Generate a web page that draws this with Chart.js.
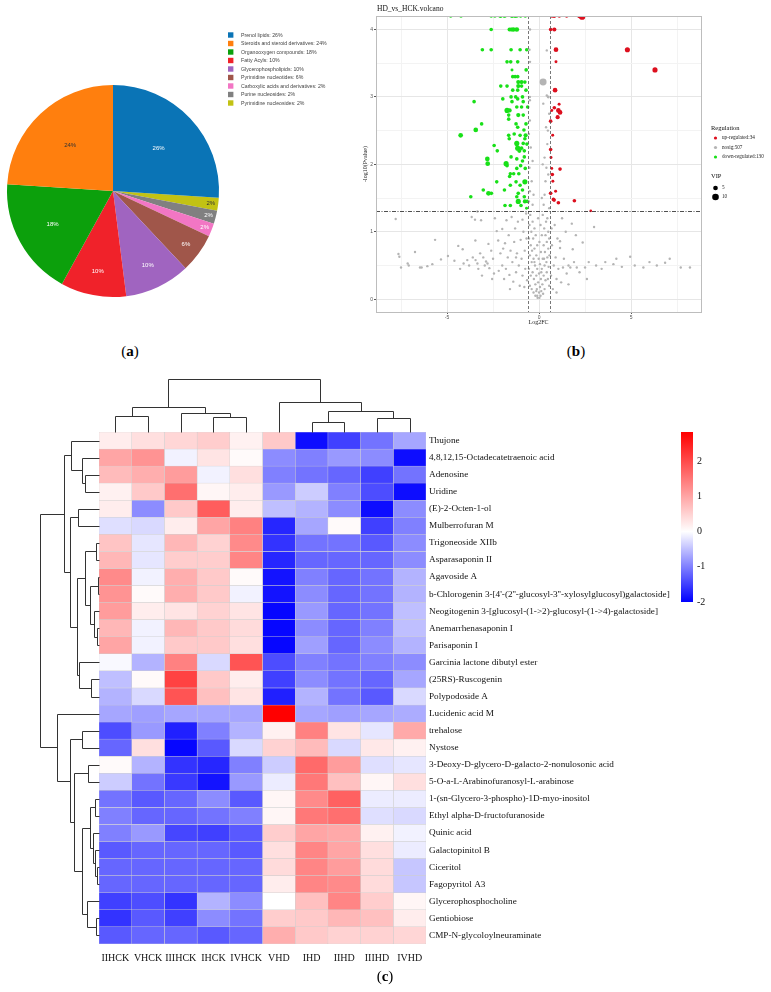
<!DOCTYPE html>
<html>
<head>
<meta charset="utf-8">
<script src="https://cdn.jsdelivr.net/npm/chart.js@4.4.1/dist/chart.umd.min.js"></script>
<style>
  html, body { margin: 0; padding: 0; background: #fff; }
  body { width: 771px; height: 992px; position: relative; overflow: hidden; }
  canvas { position: absolute; }
  #pie { left: 0; top: 0; }
  #volcano { left: 340px; top: 0; }
  #heat { left: 0; top: 370px; }
  .cap { position: absolute; font-family: 'Liberation Serif', serif; font-size: 15px; transform: translateX(-50%); line-height: 1; }
</style>
</head>
<body>
<canvas id="pie" width="360" height="320"></canvas>
<canvas id="volcano" width="431" height="326"></canvas>
<canvas id="heat" width="771" height="600"></canvas>
<div class="cap" style="left:130px;top:344px">(<b>a</b>)</div>
<div class="cap" style="left:576px;top:344px">(<b>b</b>)</div>
<div class="cap" style="left:385px;top:969px">(<b>c</b>)</div>
<script>
// ---------- (a) pie ----------
const pieLabels = ['Prenol lipids', 'Steroids and steroid derivatives', 'Organooxygen compounds', 'Fatty Acyls',
  'Glycerophospholipids', 'Pyrimidine nucleotides', 'Carboxylic acids and derivatives', 'Purine nucleosides',
  'Pyrimidine nucleosides'];
const piePercents = [26, 24, 18, 10, 10, 6, 2, 2, 2];
const pieColors = ['#0a74b6', '#ff7f0e', '#0ca00c', '#f0222a', '#a064c0', '#a0564a', '#f276c4', '#808080', '#c2c214'];
const pieTextDark = [false, true, false, false, false, false, false, false, true];

// ---------- (b) volcano: [log2FC, -log10(p), VIP] ----------
const upPoints = [
  [0.82,4.2,4],[1.5,4.2,3],[2.34,4.19,9],[2.2,4.2,5],[0.7,4.2,3],[1.1,4.2,3],[0.63,4.0,3],[0.83,4.0,4],
  [0.92,3.7,5],[0.92,3.52,2],[0.87,3.1,5],[1.09,2.89,2],[0.83,2.84,3],[1.05,2.8,5],[1.14,2.77,5],[0.69,2.8,2],
  [1.01,2.7,4],[0.63,2.64,3],[0.74,2.43,2],[0.63,2.22,3],[0.69,1.94,2],[1.14,1.93,3],[0.72,1.85,3],[0.65,2.1,2],
  [0.75,1.75,2],[0.63,1.57,3],[0.78,1.48,3],[0.82,1.47,3],[1.05,1.43,3],[1.92,1.46,3],[2.81,1.31,1.5],
  [4.8,3.7,6],[6.3,3.4,6],[0.9,1.6,2]
];
const downPoints = [
  [-4.8,4.2,3],[-4.24,4.2,3],[-2.6,4.2,3],[-2.4,4.2,3],[-2.1,4.2,4],[-1.85,4.2,3],[-1.47,4.2,4],[-1.3,4.2,4],
  [-1.2,4.2,3],[-0.75,4.2,3],[-1.9,4.2,3],[-1.0,4.2,3],
  [-2.6,4.0,3],[-1.6,4.0,4],[-1.4,4.0,5],[-1.21,4.0,5],[-1.5,4.0,4],
  [-3.08,3.7,3],[-2.6,3.7,3],[-1.52,3.7,3],[-1.03,3.7,3],[-0.67,3.7,3],
  [-1.74,3.52,3],[-1.54,3.52,3],[-1.16,3.52,3],[-1.47,3.4,2],[-0.7,3.4,3],
  [-1.43,3.3,3],[-1.16,3.3,3],[-1.3,3.3,3],[-1.13,3.22,4],[-0.95,3.22,4],[-0.77,3.22,3],
  [-2.08,3.16,3],[-1.74,3.16,3],[-1.13,3.16,4],[-0.95,3.16,3],[-1.43,3.1,3],[-1.16,3.1,3],[-0.71,3.1,3],
  [-1.52,3.0,3],[-1.27,3.0,3],[-0.9,3.0,3],[-1.97,2.97,3],[-1.16,2.97,3],[-3.53,2.93,3],[-1.47,2.93,3],[-0.86,2.93,3],
  [-1.21,2.85,3],[-0.95,2.85,3],[-0.62,2.85,3],[-1.74,2.8,6],[-1.6,2.8,4],
  [-1.65,2.73,3],[-1.13,2.73,4],[-0.86,2.73,3],[-1.65,2.67,3],[-3.12,2.6,3],[-1.25,2.6,3],[-0.71,2.6,3],
  [-1.16,2.55,3],[-3.44,2.51,5],[-0.82,2.51,3],[-1.35,2.45,3],
  [-4.26,2.43,5],[-1.65,2.43,3],[-1.03,2.43,3],[-0.73,2.43,4],[-1.62,2.38,3],[-0.77,2.38,3],
  [-1.21,2.31,6],[-0.86,2.31,3],[-0.66,2.3,3],[-2.44,2.28,3],[-1.16,2.24,6],[-0.95,2.24,3],
  [-2.27,2.2,3],[-1.07,2.2,4],[-0.8,2.2,3],[-1.52,2.11,3],[-0.8,2.11,3],[-0.9,2.05,3],
  [-2.81,2.08,5],[-1.21,2.08,3],[-2.79,2.01,5],[-1.79,2.01,6],[-1.74,1.98,3],[-1.0,1.98,3],
  [-1.21,1.94,3],[-0.75,1.94,3],[-1.56,1.86,3],[-1.38,1.86,3],[-1.1,1.86,3],[-1.6,1.82,3],
  [-2.3,1.74,3],[-1.25,1.74,3],[-0.77,1.74,6],[-1.56,1.69,3],[-1.03,1.69,3],
  [-3.03,1.62,3],[-1.88,1.62,3],[-0.9,1.62,3],[-2.75,1.57,5],[-2.59,1.57,3],[-1.13,1.57,3],
  [-3.71,1.52,3],[-1.21,1.52,3],[-0.8,1.52,3],[-1.13,1.45,6],[-0.77,1.45,4],[-0.64,1.45,3],
  [-1.85,1.39,3],[-1.56,1.39,3],[-0.98,1.39,3],[-0.68,1.35,2]
];
const nosigPoints = [
  [-7.79,1.19,1.3],[-7.64,0.67,1.3],[-7.59,0.63,1.3],[-7.5,0.47,1.3],[-7.14,0.53,1.3],[-7.08,0.5,1.3],
  [-6.74,0.7,1.3],[-6.47,0.47,1.3],[-6.38,0.47,1.3],[-6.07,0.49,1.3],[-5.8,0.52,1.3],[-5.65,0.88,1.3],
  [-5.33,0.59,1.3],[-4.95,0.64,1.3],[-4.6,0.57,1.3],[-4.39,0.79,1.3],[-4.29,0.45,1.3],[-4.15,0.74,1.3],
  [-4.1,0.53,1.3],[-3.9,0.58,1.3],[-3.8,0.5,1.3],[-3.66,1.22,1.3],[-3.48,1.18,1.3],[-3.46,0.87,1.3],
  [-3.45,0.58,1.3],[-3.35,0.53,1.3],[-3.3,0.45,1.3],[-3.15,1.17,1.3],[-3.6,0.62,1.3],[-3.2,0.68,1.3],
  [-3.35,1.3,1.3],[-3.1,0.35,1.3],
  [-3.03,0.62,1.3],[-2.95,0.5,1.3],[-2.88,0.56,1.3],[-2.8,0.53,1.3],[-2.7,0.46,1.3],[-2.6,0.72,1.3],
  [-2.5,0.6,1.3],[-2.45,0.38,1.3],[-2.3,1.01,1.3],[-2.22,0.87,1.3],[-2.19,0.42,1.3],[-2.1,0.68,1.3],
  [-2.0,1.04,1.3],[-2.0,0.5,1.3],[-1.9,0.3,1.3],[-1.85,0.83,1.3],[-1.8,0.45,1.3],[-1.77,1.17,1.3],
  [-1.7,0.62,1.3],[-1.65,0.95,1.3],[-1.61,0.36,1.3],[-1.55,0.72,1.3],[-1.49,1.22,1.3],[-1.45,0.55,1.3],
  [-1.4,0.26,1.3],[-1.35,0.85,1.3],[-1.3,1.05,1.3],[-1.25,0.4,1.3],[-1.2,0.68,1.3],[-1.15,1.15,1.3],
  [-1.1,0.5,1.3],[-1.05,0.2,1.3],[-1.0,0.88,1.3],[-0.95,0.6,1.3],[-0.9,0.35,1.3],[-0.85,1.0,1.3],
  [-0.8,0.18,1.3],[-0.78,0.72,1.3],[-0.75,0.45,1.3],[-0.7,1.27,1.3],[-0.68,0.9,1.3],[-0.65,0.28,1.3],
  [-2.75,0.82,1.3],[-2.4,1.2,1.3],[-1.95,0.75,1.3],[-1.58,0.15,1.3],[-1.25,0.62,1.3],[-0.9,1.18,1.3],
  [-2.55,0.3,1.3],
  [-0.55,0.9,1.3],[-0.55,0.45,1.3],[-0.52,1.1,1.3],[-0.5,0.65,1.3],[-0.5,0.2,1.3],[-0.48,1.25,1.3],
  [-0.45,0.8,1.3],[-0.45,0.35,1.3],[-0.42,1.0,1.3],[-0.4,0.55,1.3],[-0.4,0.15,1.3],[-0.38,0.72,1.3],
  [-0.35,1.15,1.3],[-0.35,0.4,1.3],[-0.32,0.9,1.3],[-0.3,0.6,1.3],[-0.3,0.1,1.3],[-0.28,0.3,1.3],
  [-0.25,1.05,1.3],[-0.25,0.75,1.3],[-0.22,0.5,1.3],[-0.2,0.22,1.3],[-0.2,0.05,1.3],[-0.18,0.95,1.3],
  [-0.15,0.65,1.3],[-0.15,0.35,1.3],[-0.12,0.15,1.3],[-0.1,0.8,1.3],[-0.1,0.45,1.3],[-0.08,0.02,1.3],
  [-0.05,0.25,1.3],[-0.05,1.2,1.3],[-0.02,0.6,1.3],[0.0,0.1,1.3],[0.0,0.38,1.3],[0.02,0.85,1.3],
  [0.05,0.18,1.3],[0.05,0.52,1.3],[0.08,0.05,1.3],[0.08,1.1,1.3],[0.1,0.3,1.3],[0.1,0.7,1.3],
  [0.12,0.12,1.3],[0.15,0.45,1.3],[0.15,0.95,1.3],[0.18,0.22,1.3],[0.2,0.6,1.3],[0.2,1.25,1.3],
  [0.22,0.08,1.3],[0.25,0.35,1.3],[0.25,0.8,1.3],[0.28,1.05,1.3],[0.3,0.5,1.3],[0.3,0.15,1.3],
  [0.32,0.7,1.3],[0.35,0.95,1.3],[0.35,0.28,1.3],[0.38,1.15,1.3],[0.4,0.55,1.3],[0.42,0.4,1.3],
  [0.42,0.85,1.3],[0.45,1.2,1.3],[0.45,0.62,1.3],[0.48,0.3,1.3],[0.5,0.75,1.3],[0.5,1.0,1.3],
  [0.52,0.48,1.3],[0.55,0.9,1.3],[0.55,0.2,1.3],[0.57,0.65,1.3],[-0.1,0.05,1.3],[0.02,0.02,1.3],
  [-0.15,0.12,1.3],[0.12,0.4,1.3],[-0.25,0.55,1.3],[0.27,0.6,1.3],
  [-0.55,1.45,1.3],[-0.5,1.6,1.3],[-0.52,1.95,1.3],[-0.45,2.25,1.3],[-0.55,2.45,1.3],[-0.5,2.65,1.3],
  [-0.4,1.75,1.3],[-0.35,1.4,1.3],[-0.3,1.55,1.3],[-0.35,2.05,1.3],[-0.5,3.0,1.3],[-0.5,2.95,1.3],
  [-0.52,3.7,1.3],[-0.49,3.52,1.3],[-0.49,4.0,1.3],[0.25,1.4,1.3],[0.3,1.55,1.3],[0.35,1.75,1.3],
  [0.4,1.95,1.3],[0.3,2.1,1.3],[0.45,2.3,1.3],[0.38,2.55,1.3],[0.55,2.75,1.3],[0.23,2.9,1.3],
  [0.42,3.02,1.3],[0.5,3.0,2],[0.15,1.5,1.3],[0.5,1.85,1.3],[0.2,2.0,1.3],[0.48,2.5,1.3],
  [0.42,3.69,1.3],[0.55,1.35,1.3],[0.22,3.22,11],
  [0.65,0.35,1.3],[0.7,0.8,1.3],[0.75,0.15,1.3],[0.8,0.5,1.3],[0.85,1.1,1.3],[0.9,0.62,1.3],
  [0.95,0.3,1.3],[1.0,0.9,1.3],[1.05,0.45,1.3],[1.14,0.76,1.3],[1.14,0.86,1.3],[1.2,0.25,1.3],
  [1.3,0.47,1.3],[1.35,0.6,1.3],[1.45,1.0,1.3],[1.5,0.38,1.3],[1.6,0.5,1.3],[1.7,0.47,1.3],
  [1.78,1.12,1.3],[1.83,0.74,1.3],[1.9,0.55,1.3],[2.0,0.95,1.3],[2.05,0.47,1.3],[2.2,0.4,1.3],
  [2.37,0.84,1.3],[2.5,0.47,1.3],[2.7,0.55,1.3],[2.99,1.07,1.3],[3.1,0.5,1.3],[3.4,0.45,1.3],
  [3.6,0.55,1.3],[4.04,0.52,1.3],[4.2,0.6,1.3],[4.5,0.48,1.3],[4.95,0.63,1.3],[5.2,0.5,1.3],
  [5.67,0.47,1.3],[6.0,0.55,1.3],[6.4,0.5,1.3],[6.85,0.54,1.3],[7.1,0.6,1.3],[7.7,0.47,1.3],
  [8.2,0.47,1.3],[1.25,1.2,1.3],[0.68,1.05,1.3],[0.95,0.1,1.3],[1.6,0.22,1.3],[2.6,0.3,1.3]
];
const fcCut = 0.585;
const pCut = 1.301;
const regulationLabels = ['up-regulated:34', 'nosig:507', 'down-regulated:130'];
const vipLegend = [5, 10];

// ---------- (c) heatmap ----------
const heatCols = ['IIHCK', 'VHCK', 'IIIHCK', 'IHCK', 'IVHCK', 'VHD', 'IHD', 'IIHD', 'IIIHD', 'IVHD'];
const heatRows = ['Thujone', '4,8,12,15-Octadecatetraenoic acid', 'Adenosine', 'Uridine', '(E)-2-Octen-1-ol',
  'Mulberrofuran M', 'Trigoneoside XIIb', 'Asparasaponin II', 'Agavoside A',
  "b-Chlorogenin 3-[4'-(2''-glucosyl-3''-xylosylglucosyl)galactoside]",
  'Neogitogenin 3-[glucosyl-(1->2)-glucosyl-(1->4)-galactoside]', 'Anemarrhenasaponin I', 'Parisaponin I',
  'Garcinia lactone dibutyl ester', '(25RS)-Ruscogenin', 'Polypodoside A', 'Lucidenic acid M', 'trehalose',
  'Nystose', '3-Deoxy-D-glycero-D-galacto-2-nonulosonic acid', '5-O-a-L-Arabinofuranosyl-L-arabinose',
  '1-(sn-Glycero-3-phospho)-1D-myo-inositol', 'Ethyl alpha-D-fructofuranoside', 'Quinic acid',
  'Galactopinitol B', 'Ciceritol', 'Fagopyritol A3', 'Glycerophosphocholine', 'Gentiobiose',
  'CMP-N-glycoloylneuraminate'];
const heatValues = [
  [0.2, 0.35, 0.45, 0.55, 0.15, 0.6, -1.9, -1.5, -1.1, -0.7],
  [1.0, 1.2, -0.1, 0.3, 0.05, -0.9, -1.0, -0.8, -0.9, -1.9],
  [0.75, 0.9, 1.1, -0.1, 0.35, -1.0, -1.1, -1.2, -1.5, -1.1],
  [0.15, 0.6, 1.6, 0.1, 0.2, -0.8, -0.4, -1.0, -1.4, -1.9],
  [0.2, -0.9, 0.6, 1.8, 0.2, -0.5, -0.6, -0.9, -1.9, -0.9],
  [-0.25, -0.3, 0.2, 1.0, 1.4, -1.7, -0.7, 0.05, -1.5, -1.0],
  [0.65, -0.2, 0.8, 0.5, 1.3, -1.6, -1.1, -1.1, -1.3, -0.9],
  [0.8, -0.2, 0.55, 0.55, 1.35, -1.7, -1.2, -1.2, -1.2, -0.9],
  [1.3, -0.1, 0.9, 0.6, 0.05, -1.85, -1.0, -1.2, -1.1, -0.6],
  [1.2, 0.05, 0.9, 0.6, -0.1, -1.85, -0.9, -1.2, -1.1, -0.6],
  [1.1, 0.2, 0.3, 0.5, 0.3, -1.95, -0.8, -1.2, -1.1, -0.5],
  [0.8, -0.1, 0.8, 0.6, 0.4, -1.95, -0.9, -1.2, -1.0, -0.5],
  [1.0, -0.1, 0.6, 0.6, 0.35, -1.95, -0.75, -1.2, -0.9, -0.6],
  [-0.05, -0.6, 1.4, -0.3, 1.9, -1.4, -1.0, -1.1, -1.0, -0.9],
  [-0.5, 0.05, 2.1, 0.6, 0.2, -1.5, -0.9, -1.1, -1.2, -0.7],
  [-0.6, -0.3, 1.9, 0.7, 0.3, -1.75, -0.6, -1.1, -1.3, -0.3],
  [-0.7, -0.75, -0.7, -0.7, -0.7, 2.85, -0.7, -0.75, -0.7, -0.65],
  [-1.4, -0.8, -1.75, -1.0, -0.6, 0.15, 1.4, 0.3, -0.2, 0.95],
  [-1.2, 0.35, -1.95, -1.3, -0.3, 0.5, 0.75, -0.3, 0.25, 0.15],
  [0.05, -0.6, -1.6, -1.7, -1.0, -0.4, 1.65, 1.1, -0.25, -0.2],
  [-0.4, -1.1, -1.55, -1.85, -0.8, -0.15, 1.5, 0.7, 0.1, 0.35],
  [-1.1, -1.3, -1.2, -0.9, -1.3, 0.1, 1.3, 1.75, -0.15, -0.15],
  [-1.0, -1.2, -1.2, -1.1, -1.0, 0.1, 1.5, 1.6, -0.25, -0.3],
  [-1.0, -0.8, -1.45, -1.5, -1.3, 0.55, 1.0, 0.95, 0.15, -0.1],
  [-1.3, -1.2, -1.2, -1.2, -1.3, 0.35, 1.35, 1.0, 0.35, -0.15],
  [-1.2, -1.2, -1.2, -1.2, -1.2, 0.4, 1.35, 1.1, 0.4, -0.45],
  [-1.2, -1.2, -1.2, -1.2, -1.2, 0.2, 1.35, 1.3, 0.4, -0.45],
  [-1.5, -1.4, -1.6, -0.6, -0.9, 0.0, 0.7, 1.35, 0.55, 0.1],
  [-1.6, -1.3, -1.5, -0.9, -1.1, 0.55, 0.6, 0.8, 0.7, 0.2],
  [-1.3, -1.2, -1.2, -1.3, -1.2, 0.9, 0.6, 0.5, 0.5, 0.45]
];
// dendrogram merges: [childA, childB, height]; new nodes get ids after the leaves
const rowTree = [
  [2, 3, 2.3], [1, 30, 2.9], [0, 31, 4.7], [4, 5, 3.5], [6, 7, 0.5], [8, 9, 0.25], [11, 12, 0.4],
  [10, 36, 0.9], [35, 37, 1.6], [34, 38, 2.3], [14, 15, 1.35], [13, 40, 3.35], [39, 41, 3.8],
  [33, 42, 4.9], [32, 43, 5.9], [17, 18, 2.9], [19, 20, 1.9], [21, 22, 0.7], [25, 26, 0.3],
  [24, 48, 0.6], [23, 49, 1.0], [47, 50, 1.6], [28, 29, 0.5], [27, 52, 2.1], [51, 53, 2.8],
  [46, 54, 4.2], [45, 55, 4.9], [16, 56, 7.2], [44, 57, 10]
];
const colTree = [
  [0, 1, 3.0], [3, 4, 2.9], [2, 11, 3.5], [10, 12, 4.8], [6, 7, 1.85], [8, 9, 2.6],
  [14, 15, 4.0], [5, 16, 5.6], [13, 17, 10]
];
const colorMin = -2;
const colorMax = 2.83;
const colorTicks = [2, 1, 0, -1, -2];

function heatColor(v) {
  if (v < 0) {
    const t = Math.min(1, -v / -colorMin);
    const c = Math.round(255 * (1 - t));
    return `rgb(${c},${c},255)`;
  }
  const t = Math.min(1, v / colorMax);
  const c = Math.round(255 * (1 - t));
  return `rgb(255,${c},${c})`;
}

const SERIF = "'Liberation Serif', 'Times New Roman', serif";
const SANS = "'Liberation Sans', Arial, sans-serif";

// ---------- pie chart ----------
const pieDecor = {
  id: 'pieDecor',
  afterDraw(chart) {
    const ctx = chart.ctx;
    const meta = chart.getDatasetMeta(0);
    const n = piePercents.length;
    ctx.save();
    ctx.font = `6px ${SANS}`;
    ctx.textAlign = 'center';
    ctx.textBaseline = 'middle';
    meta.data.forEach((arc, i) => {
      const k = n - 1 - i; // datasets are stored in reverse legend order
      const pct = piePercents[k];
      const { startAngle, endAngle, outerRadius, x, y } = arc.getProps(['startAngle', 'endAngle', 'outerRadius', 'x', 'y'], true);
      const mid = (startAngle + endAngle) / 2;
      const d = pct >= 24 ? 0.59 : pct >= 18 ? 0.65 : pct >= 10 ? 0.77 : pct >= 6 ? 0.85 : 0.93;
      ctx.fillStyle = pieTextDark[k] ? '#333' : '#fff';
      ctx.fillText(pct + '%', x + Math.cos(mid) * outerRadius * d, y + Math.sin(mid) * outerRadius * d);
    });
    // legend
    ctx.textAlign = 'left';
    ctx.font = `5.2px ${SANS}`;
    pieLabels.forEach((lab, k) => {
      const ly = 35 + k * 8.5;
      ctx.fillStyle = pieColors[k];
      ctx.fillRect(228, ly - 2.7, 5.4, 5.4);
      ctx.fillStyle = '#444';
      ctx.fillText(`${lab}: ${piePercents[k]}%`, 241, ly + 0.3);
    });
    ctx.restore();
  },
};

new Chart(document.getElementById('pie'), {
  type: 'pie',
  data: {
    labels: [...pieLabels].reverse(),
    datasets: [{
      data: [...piePercents].reverse(),
      backgroundColor: [...pieColors].reverse(),
      borderWidth: 0,
    }],
  },
  options: {
    responsive: false,
    animation: false,
    devicePixelRatio: 1,
    rotation: piePercents[0] * 3.6,
    layout: { padding: { left: 0, right: 134, top: 85, bottom: 23 } },
    plugins: { legend: { display: false }, tooltip: { enabled: false } },
  },
  plugins: [pieDecor],
});

// ---------- volcano ----------
const vipRadius = v => 1.05 * Math.sqrt(v);
const toXY = arr => arr.map(p => ({ x: p[0], y: p[1], v: p[2] }));

const volcanoDecor = {
  id: 'volcanoDecor',
  afterDatasetsDraw(chart) {
    const { ctx, chartArea: a, scales: { x, y } } = chart;
    ctx.save();
    ctx.lineWidth = 0.8;
    ctx.strokeStyle = '#555';
    ctx.setLineDash([3, 2]);
    [-fcCut, fcCut].forEach(v => {
      const px = Math.round(x.getPixelForValue(v)) + 0.5;
      ctx.beginPath(); ctx.moveTo(px, a.top); ctx.lineTo(px, a.bottom); ctx.stroke();
    });
    ctx.strokeStyle = '#222';
    ctx.setLineDash([4, 1.5, 1, 1.5]);
    const py = Math.round(y.getPixelForValue(pCut)) + 0.5;
    ctx.beginPath(); ctx.moveTo(a.left, py); ctx.lineTo(a.right, py); ctx.stroke();
    ctx.setLineDash([]);
    ctx.strokeStyle = '#bdbdbd';
    ctx.lineWidth = 1;
    ctx.strokeRect(Math.round(a.left) + 0.5, Math.round(a.top) + 0.5, Math.round(a.right - a.left), Math.round(a.bottom - a.top));
    ctx.restore();
  },
  afterDraw(chart) {
    const ctx = chart.ctx;
    ctx.save();
    ctx.fillStyle = '#111';
    ctx.textBaseline = 'middle';
    ctx.font = `7.5px ${SERIF}`;
    ctx.fillText('HD_vs_HCK.volcano', 37, 9);
    // legend
    ctx.font = `6.5px ${SERIF}`;
    ctx.fillText('Regulation', 371, 128);
    const regColors = ['#dd0f1e', '#b4b4b4', '#18e018'];
    ctx.font = `5.2px ${SERIF}`;
    regulationLabels.forEach((lab, i) => {
      const ly = 138 + i * 9.5;
      ctx.fillStyle = regColors[i];
      ctx.beginPath(); ctx.arc(375.5, ly, 1.6, 0, Math.PI * 2); ctx.fill();
      ctx.fillStyle = '#222';
      ctx.fillText(lab, 382, ly);
    });
    ctx.font = `6.5px ${SERIF}`;
    ctx.fillStyle = '#111';
    ctx.fillText('VIP', 371, 176);
    ctx.font = `5.2px ${SERIF}`;
    vipLegend.forEach((v, i) => {
      const ly = 188 + i * 9;
      ctx.fillStyle = '#000';
      ctx.beginPath(); ctx.arc(375.5, ly, vipRadius(v), 0, Math.PI * 2); ctx.fill();
      ctx.fillStyle = '#222';
      ctx.fillText(String(v), 382, ly);
    });
    ctx.restore();
  },
};

const gridCol = (major, minor) => c => (Math.abs(c.tick.value % (c.scale.axis === 'x' ? 5 : 1)) < 1e-6 ? major : minor);

new Chart(document.getElementById('volcano'), {
  type: 'scatter',
  data: {
    datasets: [
      { label: 'nosig', data: toXY(nosigPoints), backgroundColor: '#b4b4b4' },
      { label: 'down', data: toXY(downPoints), backgroundColor: '#18e018' },
      { label: 'up', data: toXY(upPoints), backgroundColor: '#dd0f1e' },
    ],
  },
  options: {
    responsive: false,
    animation: false,
    devicePixelRatio: 1,
    layout: { padding: { left: 22, right: 70, top: 16, bottom: 0 } },
    elements: {
      point: {
        radius: c => vipRadius(c.raw ? c.raw.v : 1),
        borderWidth: 0,
        hoverRadius: c => vipRadius(c.raw ? c.raw.v : 1),
      },
    },
    scales: {
      x: {
        type: 'linear',
        min: -8.86,
        max: 8.8,
        afterFit: s => { s.height = 14; },
        ticks: {
          stepSize: 2.5,
          includeBounds: false,
          autoSkip: false,
          maxRotation: 0,
          padding: 1,
          color: '#555',
          font: { size: 5, family: SANS },
          callback: v => (v % 5 === 0 ? v : ''),
        },
        grid: {
          color: gridCol('#e6e6e6', '#f3f3f3'),
          tickLength: 2,
          tickColor: gridCol('#555', 'rgba(0,0,0,0)'),
        },
        border: { display: false },
        title: { display: true, text: 'Log2FC', padding: 0, color: '#222', font: { size: 6, family: SERIF } },
      },
      y: {
        type: 'linear',
        min: -0.19,
        max: 4.2,
        afterFit: s => { s.width = 14; },
        ticks: {
          stepSize: 0.5,
          includeBounds: false,
          padding: 1,
          color: '#555',
          font: { size: 5, family: SANS },
          callback: v => (v % 1 === 0 ? v : ''),
        },
        grid: {
          color: gridCol('#e6e6e6', '#f3f3f3'),
          tickLength: 2,
          tickColor: gridCol('#555', 'rgba(0,0,0,0)'),
        },
        border: { display: false },
        title: { display: true, text: '-log10(Pvalue)', padding: 0, color: '#222', font: { size: 6, family: SERIF } },
      },
    },
    plugins: { legend: { display: false }, tooltip: { enabled: false } },
  },
  plugins: [volcanoDecor],
});

// ---------- heatmap ----------
function drawTree(ctx, merges, leafPos, pt) {
  const pos = leafPos.slice();
  const hgt = leafPos.map(() => 0);
  ctx.beginPath();
  merges.forEach(([a, b, h]) => {
    const p1 = pt(pos[a], hgt[a]);
    const p2 = pt(pos[a], h);
    const p3 = pt(pos[b], h);
    const p4 = pt(pos[b], hgt[b]);
    ctx.moveTo(p1[0], p1[1]);
    ctx.lineTo(p2[0], p2[1]);
    ctx.lineTo(p3[0], p3[1]);
    ctx.lineTo(p4[0], p4[1]);
    pos.push((pos[a] + pos[b]) / 2);
    hgt.push(h);
  });
  ctx.stroke();
}

const heatDecor = {
  id: 'heatDecor',
  afterDraw(chart) {
    const { ctx, chartArea: a, scales: { x, y } } = chart;
    ctx.save();
    ctx.strokeStyle = '#333';
    ctx.lineWidth = 1;
    const r = v => Math.round(v) + 0.5;
    const rowPos = heatRows.map((_, i) => y.getPixelForValue(i));
    drawTree(ctx, rowTree, rowPos, (p, h) => [r(a.left - h * 5.9), r(p)]);
    const colPos = heatCols.map((_, j) => x.getPixelForValue(j + 0.5));
    drawTree(ctx, colTree, colPos, (p, h) => [r(p), r(a.top - h * 5.3)]);

    // colour key
    const kx = 681, kw = 12, kTop = a.top, kBot = a.top + 170;
    const vToY = v => kBot - (v - colorMin) / (colorMax - colorMin) * (kBot - kTop);
    const g = ctx.createLinearGradient(0, kBot, 0, kTop);
    g.addColorStop(0, heatColor(colorMin));
    g.addColorStop((0 - colorMin) / (colorMax - colorMin), heatColor(0));
    g.addColorStop(1, heatColor(colorMax));
    ctx.fillStyle = g;
    ctx.fillRect(kx, kTop, kw, kBot - kTop);
    ctx.fillStyle = '#111';
    ctx.font = `10px ${SERIF}`;
    ctx.textBaseline = 'middle';
    colorTicks.forEach(v => ctx.fillText(String(v), kx + 16, vToY(v)));
    ctx.restore();
  },
};

new Chart(document.getElementById('heat'), {
  type: 'bar',
  data: {
    labels: heatRows,
    datasets: heatCols.map((c, j) => ({
      label: c,
      data: heatRows.map(() => [j, j + 1]),
      backgroundColor: heatValues.map(row => heatColor(row[j])),
      borderColor: '#cfcfcf',
      borderWidth: 0.5,
      borderSkipped: false,
      barPercentage: 1,
      categoryPercentage: 1,
      grouped: false,
    })),
  },
  options: {
    indexAxis: 'y',
    responsive: false,
    animation: false,
    devicePixelRatio: 1,
    layout: { padding: { left: 99, top: 62, right: 0, bottom: 0 } },
    scales: {
      y: {
        type: 'category',
        position: 'right',
        afterFit: s => { s.width = 771 - 426; },
        grid: { display: false, drawTicks: false },
        border: { display: false },
        ticks: { padding: 3, autoSkip: false, color: '#111', font: { size: 9.2, family: SERIF } },
      },
      x: {
        type: 'linear',
        min: 0,
        max: heatCols.length,
        afterFit: s => { s.height = 26; },
        afterBuildTicks: s => { s.ticks = heatCols.map((c, j) => ({ value: j + 0.5 })); },
        grid: { display: false, drawTicks: false },
        border: { display: false },
        ticks: {
          padding: 8,
          autoSkip: false,
          maxRotation: 0,
          color: '#111',
          font: { size: 10, family: SERIF },
          callback: (v, i) => heatCols[i],
        },
      },
    },
    plugins: { legend: { display: false }, tooltip: { enabled: false } },
  },
  plugins: [heatDecor],
});
</script>
</body>
</html>
